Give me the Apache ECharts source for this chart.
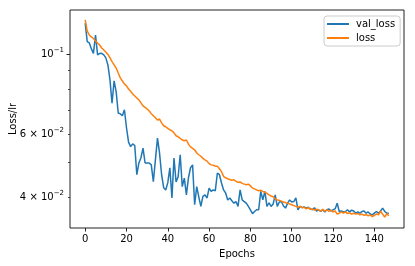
<!DOCTYPE html>
<html>
<head>
<meta charset="utf-8">
<script src="https://cdn.jsdelivr.net/npm/echarts@6/dist/echarts.min.js"></script>
<style>
html,body{margin:0;padding:0;background:#fff;}
#c{width:415px;height:266px;}
</style>
</head>
<body>
<div id="c"></div>
<script>
// ---- data ----
const seriesNames = ['val_loss', 'loss'];
const valLoss = [
0.1219,0.1084,0.1075,0.1035,0.1006,0.1131,0.0996,0.1005,0.1006,0.0996,
0.0977,0.0934,0.0849,0.0731,0.0844,0.0786,0.0687,0.0683,0.0675,0.0701,
0.0625,0.0570,0.0554,0.0564,0.0558,0.0463,0.0499,0.0516,0.0549,0.0499,
0.0499,0.0499,0.0493,0.0443,0.0509,0.0585,0.0532,0.0463,0.0426,0.0420,
0.0440,0.0484,0.0399,0.0515,0.0442,0.0457,0.0526,0.0429,0.0453,0.0407,
0.0454,0.0484,0.0493,0.0382,0.0429,0.0402,0.0378,0.0403,0.0407,0.0399,
0.0425,0.0416,0.0420,0.0418,0.0468,0.0463,0.0439,0.0420,0.0412,0.0394,
0.0399,0.0392,0.0386,0.0390,0.0378,0.0420,0.0394,0.0390,0.0386,0.0378,
0.0370,0.0361,0.0366,0.0370,0.0370,0.0416,0.0394,0.0416,0.0378,0.0387,
0.0378,0.0384,0.0407,0.0378,0.0389,0.0390,0.0379,0.0374,0.0386,0.0394,
0.0389,0.0390,0.0399,0.0370,0.0378,0.0375,0.0377,0.0374,0.0376,0.0372,
0.0370,0.0375,0.0367,0.0370,0.0366,0.0370,0.0365,0.0370,0.0372,0.0367,
0.0370,0.0372,0.0386,0.0366,0.0367,0.0365,0.0366,0.0370,0.0365,0.0369,
0.0367,0.0362,0.0365,0.0362,0.0366,0.0367,0.0362,0.0365,0.0360,0.0358,
0.0362,0.0366,0.0362,0.0367,0.0374,0.0366,0.0362,0.0362
];
const loss = [
0.1245,0.1160,0.1131,0.1117,0.1106,0.1088,0.1075,0.1061,0.1041,0.1028,
0.1015,0.0999,0.0977,0.0954,0.0934,0.0916,0.0887,0.0860,0.0843,0.0827,
0.0817,0.0801,0.0789,0.0776,0.0766,0.0756,0.0747,0.0733,0.0719,0.0712,
0.0705,0.0696,0.0684,0.0675,0.0666,0.0657,0.0661,0.0645,0.0633,0.0629,
0.0623,0.0617,0.0613,0.0605,0.0594,0.0590,0.0584,0.0578,0.0575,0.0578,
0.0563,0.0553,0.0548,0.0543,0.0532,0.0526,0.0521,0.0514,0.0509,0.0505,
0.0497,0.0493,0.0492,0.0489,0.0489,0.0481,0.0472,0.0458,0.0454,0.0451,
0.0449,0.0447,0.0448,0.0444,0.0441,0.0442,0.0438,0.0436,0.0434,0.0436,
0.0431,0.0425,0.0423,0.0420,0.0418,0.0419,0.0416,0.0414,0.0411,0.0407,
0.0404,0.0402,0.0397,0.0394,0.0393,0.0391,0.0389,0.0387,0.0386,0.0384,
0.0382,0.0380,0.0378,0.0376,0.0378,0.0375,0.0376,0.0372,0.0375,0.0371,
0.0372,0.0369,0.0371,0.0370,0.0367,0.0371,0.0367,0.0370,0.0366,0.0369,
0.0365,0.0367,0.0360,0.0362,0.0365,0.0362,0.0365,0.0361,0.0363,0.0360,
0.0362,0.0360,0.0361,0.0358,0.0360,0.0357,0.0359,0.0356,0.0358,0.0354,
0.0357,0.0360,0.0358,0.0367,0.0360,0.0353,0.0361,0.0356
];
const xTickValues = [0, 20, 40, 60, 80, 100, 120, 140];
const yLabelValues = [0.04, 0.06, 0.1];
const yMajorTicks = [0.1];
const yMinorTicks = [0.04, 0.05, 0.06, 0.07, 0.08, 0.09];

// ---- chart ----
const FONT = 'DejaVu Sans';
const chart = echarts.init(document.getElementById('c'), null, {renderer: 'canvas'});

function sciLabel(v) {
  const exp = Math.floor(Math.log10(v) + 1e-9);
  const mant = Math.round(v / Math.pow(10, exp));
  const e = '\u2212' + Math.abs(exp);
  if (mant === 1) return '{b|10}{s|' + e + '}';
  return '{b|' + mant + ' \u00d7 10}{s|' + e + '}';
}
const rich = {
  b: {fontFamily: FONT, fontSize: 10, color: '#000'},
  s: {fontFamily: FONT, fontSize: 7, color: '#000', padding: [0, 0, 8, 0]}
};

const xData0 = valLoss.map((v, i) => [i, v]);
const xData1 = loss.map((v, i) => [i, v]);

const yMin = 0.03293, yMax = 0.1327;

chart.setOption({
  animation: false,
  grid: {left: 70, top: 10, right: 11, bottom: 38, outerBoundsMode: 'none', containLabel: false,
         show: true, borderColor: '#222', borderWidth: 1, backgroundColor: 'transparent'},
  legend: {
    data: seriesNames,
    orient: 'vertical',
    left: 324, top: 16,
    padding: [3, 5, 3, 3],
    itemGap: 4,
    itemWidth: 22, itemHeight: 2,
    icon: 'rect',
    backgroundColor: 'rgba(255,255,255,0.8)',
    borderColor: '#cccccc', borderWidth: 1, borderRadius: 3,
    textStyle: {fontFamily: FONT, fontSize: 10, color: '#000', padding: [0, 0, 0, 2]}
  },
  xAxis: {
    type: 'value', min: -7.35, max: 154.35,
    name: 'Epochs', nameLocation: 'middle', nameGap: 21, nameMoveOverlap: false,
    nameTextStyle: {fontFamily: FONT, fontSize: 10, color: '#000'},
    axisLine: {show: false, onZero: false},
    axisTick: {show: true, inside: false, length: 3.5, customValues: xTickValues, lineStyle: {color: '#222', width: 1}},
    axisLabel: {customValues: xTickValues, fontFamily: FONT, fontSize: 10, color: '#000', margin: 6},
    splitLine: {show: false}
  },
  yAxis: [
    {
      type: 'log', logBase: 10, min: yMin, max: yMax,
      name: 'Loss/lr', nameLocation: 'middle', nameGap: 52, nameMoveOverlap: false,
      nameTextStyle: {fontFamily: FONT, fontSize: 10, color: '#000'},
      axisLine: {show: false, onZero: false},
      axisTick: {show: true, inside: false, length: 3.5, customValues: yMajorTicks, lineStyle: {color: '#222', width: 1}},
      axisLabel: {customValues: yLabelValues, formatter: sciLabel, rich: rich, margin: 6, fontFamily: FONT, fontSize: 10, color: '#000'},
      splitLine: {show: false},
      minorTick: {show: false}
    },
    {
      type: 'log', logBase: 10, min: yMin, max: yMax, position: 'left', offset: 0,
      axisLine: {show: false, onZero: false},
      axisTick: {show: true, inside: false, length: 2, customValues: yMinorTicks, lineStyle: {color: '#222', width: 0.8}},
      axisLabel: {show: false},
      splitLine: {show: false}
    }
  ],
  series: [
    {name: seriesNames[0], type: 'line', data: xData0, yAxisIndex: 0, showSymbol: false, symbol: 'none',
     lineStyle: {color: '#1f77b4', width: 1.5}, itemStyle: {color: '#1f77b4'}, z: 2},
    {name: seriesNames[1], type: 'line', data: xData1, yAxisIndex: 0, showSymbol: false, symbol: 'none',
     lineStyle: {color: '#ff7f0e', width: 1.5}, itemStyle: {color: '#ff7f0e'}, z: 3}
  ]
});
</script>
</body>
</html>
